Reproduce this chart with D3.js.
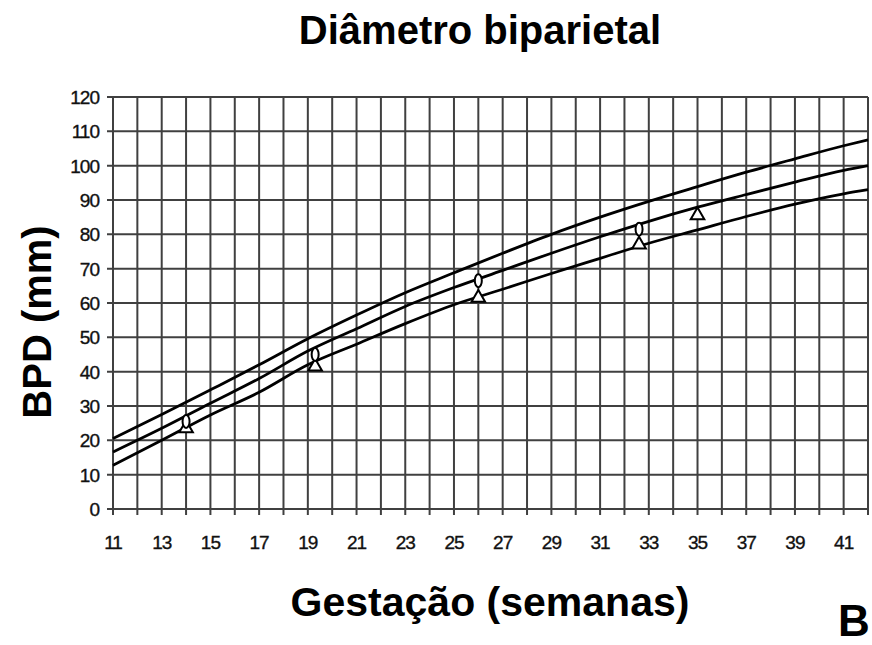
<!DOCTYPE html>
<html>
<head>
<meta charset="utf-8">
<script src="https://cdn.jsdelivr.net/npm/d3@7"></script>
<style>
  body { margin: 0; background: #fff; }
  svg { display: block; font-family: "Liberation Sans", Arial, sans-serif; }
  .tick-label { font-size: 19px; letter-spacing: -1px; fill: #111; stroke: #111; stroke-width: 0.35px; }
  .big { font-weight: bold; fill: #000; }
</style>
</head>
<body>
<div id="wrapper"></div>
<script>
// gestational weeks where curves were read
const weeks = [11, 13, 15, 17, 19, 21, 23, 25, 27, 29, 31, 33, 35, 37, 39, 41, 42]

// three reference curves (mm)
const upperCurve  = [20.5, 27.5, 34.7, 42, 49.6, 56.5, 63, 68.8, 74.5, 80, 85, 89.6, 93.9, 98.1, 102, 105.8, 107.5]
const middleCurve = [16.6, 23.5, 30.8, 38, 46, 52.5, 59, 64.5, 69.5, 74.5, 79.3, 83.8, 87.9, 91.6, 95.2, 98.6, 100]
const lowerCurve  = [12.7, 20, 27.4, 34, 42, 48, 54, 59.5, 64, 68.6, 73, 77.4, 81.3, 85.2, 88.8, 91.8, 93]

// measured points
const ellipseWeeks  = [14, 19.3, 26, 32.6]
const ellipseValues = [25.5, 45, 66.5, 81.5]
const triangleWeeks  = [14, 19.3, 26, 32.6, 35]
const triangleValues = [23.5, 41.5, 61.5, 77, 85.5]

// axis ticks
const xTickLabels = [11, 13, 15, 17, 19, 21, 23, 25, 27, 29, 31, 33, 35, 37, 39, 41]
const yTickLabels = [0, 10, 20, 30, 40, 50, 60, 70, 80, 90, 100, 110, 120]

const width = 872
const height = 645
const margin = { top: 97, right: 4, bottom: 136, left: 113 }

const svg = d3.select("#wrapper")
  .append("svg")
    .attr("width", width)
    .attr("height", height)

const xScale = d3.scaleLinear()
  .domain([11, 42])
  .range([margin.left, width - margin.right])

const yScale = d3.scaleLinear()
  .domain([0, 120])
  .range([height - margin.bottom, margin.top])

const gridColor = "#404040"

// vertical grid lines, one per week
const gridGroup = svg.append("g")
gridGroup.selectAll(".vgrid")
  .data(d3.range(11, 43))
  .join("line")
    .attr("x1", d => xScale(d))
    .attr("x2", d => xScale(d))
    .attr("y1", yScale(120))
    .attr("y2", yScale(0) + 6)
    .attr("stroke", gridColor)
    .attr("stroke-width", 2)

// horizontal grid lines
gridGroup.selectAll(".hgrid")
  .data(yTickLabels)
  .join("line")
    .attr("x1", xScale(11) - 6)
    .attr("x2", xScale(42))
    .attr("y1", d => yScale(d))
    .attr("y2", d => yScale(d))
    .attr("stroke", gridColor)
    .attr("stroke-width", 2)

// tick labels
svg.append("g").selectAll("text")
  .data(yTickLabels)
  .join("text")
    .attr("class", "tick-label")
    .attr("x", xScale(11) - 14)
    .attr("y", d => yScale(d))
    .attr("dy", "0.36em")
    .attr("text-anchor", "end")
    .text(d => d)

svg.append("g").selectAll("text")
  .data(xTickLabels)
  .join("text")
    .attr("class", "tick-label")
    .attr("x", d => xScale(d))
    .attr("y", yScale(0) + 40)
    .attr("text-anchor", "middle")
    .text(d => d)

// curves
const line = d3.line()
  .x(d => xScale(d[0]))
  .y(d => yScale(d[1]))
  .curve(d3.curveMonotoneX)

const curves = [upperCurve, middleCurve, lowerCurve]
svg.append("g").selectAll("path")
  .data(curves)
  .join("path")
    .attr("d", c => line(weeks.map((w, i) => [w, c[i]])))
    .attr("fill", "none")
    .attr("stroke", "#000")
    .attr("stroke-width", 2.8)

// triangle markers
const triangle = d3.symbol().type(d3.symbolTriangle).size(80)
svg.append("g").selectAll("path")
  .data(triangleWeeks.map((w, i) => [w, triangleValues[i]]))
  .join("path")
    .attr("d", triangle)
    .attr("transform", d => `translate(${xScale(d[0])},${yScale(d[1])})`)
    .attr("fill", "#fff")
    .attr("stroke", "#000")
    .attr("stroke-width", 2)

// ellipse markers
svg.append("g").selectAll("ellipse")
  .data(ellipseWeeks.map((w, i) => [w, ellipseValues[i]]))
  .join("ellipse")
    .attr("cx", d => xScale(d[0]))
    .attr("cy", d => yScale(d[1]))
    .attr("rx", 3.5)
    .attr("ry", 6.5)
    .attr("fill", "#fff")
    .attr("stroke", "#000")
    .attr("stroke-width", 2)

// titles
svg.append("text")
    .attr("class", "big")
    .attr("x", 480)
    .attr("y", 44)
    .attr("text-anchor", "middle")
    .style("font-size", "40px")
    .text("Diâmetro biparietal")

svg.append("text")
    .attr("class", "big")
    .attr("x", 490)
    .attr("y", 616)
    .attr("text-anchor", "middle")
    .style("font-size", "41px")
    .text("Gestação (semanas)")

svg.append("text")
    .attr("class", "big")
    .attr("transform", `translate(51, 322) rotate(-90)`)
    .attr("text-anchor", "middle")
    .style("font-size", "40px")
    .text("BPD (mm)")

svg.append("text")
    .attr("class", "big")
    .attr("x", 838)
    .attr("y", 636)
    .style("font-size", "44px")
    .text("B")
</script>
</body>
</html>
